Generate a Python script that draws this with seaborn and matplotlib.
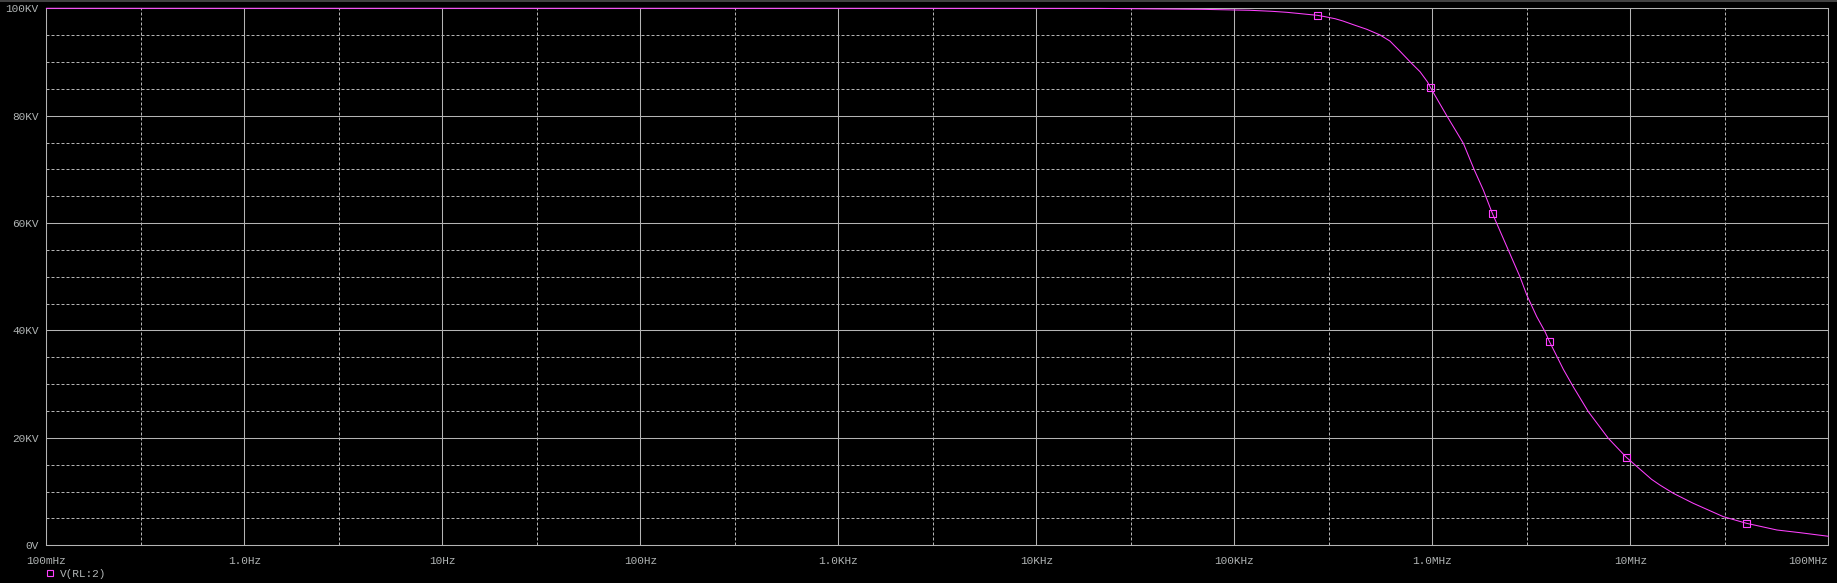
"""
PSpice-style AC sweep: V(RL:2) magnitude vs frequency
"""

import numpy as np
import matplotlib
matplotlib.use("Agg")
import matplotlib.pyplot as plt
from matplotlib.lines import Line2D
from matplotlib.ticker import FixedLocator, NullFormatter
import seaborn as sns

# Curve (Hz, KV)
freq_hz = [0.1, 1.0, 10.0, 100.0, 1e3, 1e4, 2.1e4, 6.87e4, 1.2e5, 1.55e5, 1.845e5,
           2.07e5, 2.33e5, 2.62e5, 2.87e5, 3.23e5, 3.54e5, 3.99e5, 4.66e5, 5.45e5,
           6.11e5, 6.87e5, 7.8e5, 8.67e5, 9.44e5, 9.77e5, 1.183e6, 1.435e6, 1.63e6,
           1.81e6, 2.01e6, 2.42e6, 2.77e6, 3.0e6, 3.37e6, 3.71e6, 3.9e6, 4.59e6,
           5.15e6, 6.14e6, 7.74e6, 9.55e6, 1.28e7, 1.41e7, 1.65e7, 2.08e7, 2.95e7,
           3.86e7, 5.5e7, 7.2e7, 1.0e8]
volt_kv = [100.0, 100.0, 100.0, 100.0, 100.0, 99.99, 99.98, 99.81, 99.63, 99.44, 99.25,
           99.07, 98.88, 98.70, 98.44, 98.06, 97.63, 96.95, 96.10, 95.03,
           93.90, 92.0, 89.87, 88.19, 86.33, 85.29, 80.0, 74.86, 69.89,
           66.16, 61.82, 54.99, 50.02, 46.61, 42.57, 39.78, 37.99, 32.77,
           29.53, 24.88, 19.93, 16.39, 12.29, 11.23, 9.68, 7.82, 5.33,
           4.10, 2.85, 2.35, 1.68]

# Trace markers placed by the probe
marker_hz = [2.62e5, 9.77e5, 2.01e6, 3.9e6, 9.55e6, 3.86e7]
marker_kv = [98.70, 85.29, 61.82, 37.99, 16.39, 4.10]

x_ticks = [0.1, 1.0, 10.0, 100.0, 1e3, 1e4, 1e5, 1e6, 1e7, 1e8]
x_labels = ["100mHz", "1.0Hz", "10Hz", "100Hz", "1.0KHz", "10KHz",
            "100KHz", "1.0MHz", "10MHz", "100MHz"]
y_ticks = [0, 20, 40, 60, 80, 100]
y_labels = ["0V", "20KV", "40KV", "60KV", "80KV", "100KV"]
trace_name = "V(RL:2)"

BG = "black"
GRID = "#b4b4b4"
TEXT = "#b0b4b4"
TRACE = "#ff40ff"

W, H = 1837, 583

sns.set_theme(style="dark", rc={
    "figure.facecolor": BG,
    "axes.facecolor": BG,
    "axes.edgecolor": GRID,
    "xtick.color": GRID,
    "ytick.color": GRID,
})
plt.rcParams["font.family"] = ["Liberation Mono", "DejaVu Sans Mono"]

fig = plt.figure(figsize=(W / 100, H / 100), dpi=100)
ax = fig.add_axes([46.3 / W, 1 - 545.3 / H, (1828.3 - 46.3) / W, (545.3 - 8.3) / H])
ax.set_xscale("log")

sns.lineplot(x=freq_hz, y=volt_kv, ax=ax, color=TRACE, linewidth=0.75,
             estimator=None, sort=False, clip_on=False, zorder=5)
sns.scatterplot(x=marker_hz, y=marker_kv, ax=ax, marker="s", s=24,
                facecolor="none", edgecolor=TRACE, linewidth=0.8, zorder=6)

ax.set_xlim(x_ticks[0], x_ticks[-1])
ax.set_ylim(y_ticks[0], y_ticks[-1])

# Grid: solid on decades / 20KV, dashed on 3x decade / 5KV
minor_x = [3 * t for t in x_ticks[:-1]]
minor_y = [v for v in range(5, 100, 5) if v % 20]
ax.xaxis.set_major_locator(FixedLocator(x_ticks))
ax.xaxis.set_minor_locator(FixedLocator(minor_x))
ax.xaxis.set_minor_formatter(NullFormatter())
ax.yaxis.set_major_locator(FixedLocator(y_ticks))
ax.yaxis.set_minor_locator(FixedLocator(minor_y))
ax.grid(which="major", color=GRID, linewidth=0.75, linestyle="-")
ax.grid(which="minor", color=GRID, linewidth=0.72, linestyle=(0, (3, 2)))
ax.set_axisbelow(True)

ax.set_xticklabels(x_labels)
ax.set_yticklabels(y_labels)
ax.tick_params(which="major", direction="out", length=2.5, width=0.75,
               colors=GRID, labelcolor=TEXT, labelsize=8)
ax.tick_params(axis="x", which="major", pad=5)
ax.tick_params(axis="y", which="major", pad=3)
ax.tick_params(which="minor", length=0)
ax.get_xticklabels()[-1].set_horizontalalignment("right")
ax.get_xticklabels()[-1].set_x(x_ticks[-1])

for side in ["left", "right", "top", "bottom"]:
    ax.spines[side].set_visible(True)
    ax.spines[side].set_color(GRID)
    ax.spines[side].set_linewidth(0.75)

ax.set_xlabel("")
ax.set_ylabel("")

# Trace legend below the plot
handle = Line2D([], [], linestyle="none", marker="s", markersize=4.5,
                markerfacecolor="none", markeredgecolor=TRACE, markeredgewidth=0.8)
ax.legend(handles=[handle], labels=[trace_name], loc="center left",
          bbox_to_anchor=(45.5 / W, 1 - 574 / H), bbox_transform=fig.transFigure,
          frameon=False, handlelength=0.8, handletextpad=0.5, borderpad=0,
          borderaxespad=0, labelcolor=TEXT, fontsize=8)

# Window frame line at the very top
fig.add_artist(Line2D([0, 1], [1 - 0.8 / H] * 2, transform=fig.transFigure,
                      color="#505050", linewidth=1.2))

fig.savefig("out.png", dpi=100, facecolor=BG)
